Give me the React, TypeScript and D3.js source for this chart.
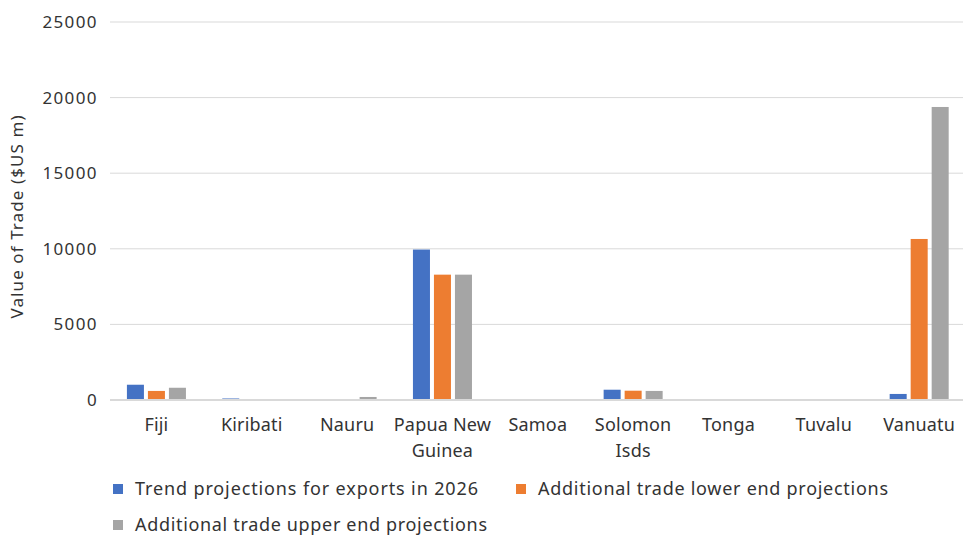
import React from "react";
import * as d3 from "d3";

const categories = ["Fiji", "Kiribati", "Nauru", "Papua New Guinea", "Samoa", "Solomon Isds", "Tonga", "Tuvalu", "Vanuatu"];
const categoryLines = [["Fiji"], ["Kiribati"], ["Nauru"], ["Papua New", "Guinea"], ["Samoa"], ["Solomon", "Isds"], ["Tonga"], ["Tuvalu"], ["Vanuatu"]];
const trendExports = [1010, 100, 20, 9950, 20, 680, 0, 0, 400];
const lowerEnd = [600, 8, 40, 8290, 5, 615, 0, 0, 10650];
const upperEnd = [810, 15, 200, 8290, 5, 600, 0, 0, 19380];
const seriesNames = ["Trend projections for exports in 2026", "Additional trade lower end projections", "Additional trade upper end projections"];
const seriesColors = ["#4472C4", "#ED7D31", "#A5A5A5"];
const yTicks = [0, 5000, 10000, 15000, 20000, 25000];

const W = 963, H = 537;
const M = { left: 108.8, right: 966.8, top: 22, bottom: 400 };
const FONT = "'Noto Sans', sans-serif";

export default function App() {
  const series = [trendExports, lowerEnd, upperEnd];
  const x = d3.scaleBand<string>().domain(categories).range([M.left, M.right]).paddingInner(0.381).paddingOuter(0.19);
  const xs = d3.scaleBand<number>().domain([0, 1, 2]).range([0, x.bandwidth()]).paddingInner(0.19);
  const y = d3.scaleLinear().domain([0, 25000]).range([M.bottom, M.top]);

  const legend = [
    { i: 0, x: 113, y: 489, len: 343 },
    { i: 1, x: 516, y: 489, len: 350 },
    { i: 2, x: 113, y: 525, len: 352 },
  ];

  return (
    <svg width={W} height={H} style={{ position: "absolute", left: 0, top: 0, background: "#fff" }} fontFamily={FONT}>
      {yTicks.map((t) => (
        <g key={t}>
          {t > 0 && <line x1={110} x2={W} y1={y(t)} y2={y(t)} stroke="#d9d9d9" strokeWidth={1} />}
          <text x={98} y={y(t)} dy="0.35em" textAnchor="end" fontSize={17} letterSpacing={1.4} fill="#333">{t}</text>
        </g>
      ))}
      {categories.map((c, i) => (
        <g key={c}>
          {series.map((s, j) => (
            <rect key={j} x={(x(c) as number) + (xs(j) as number)} width={xs.bandwidth()} y={y(s[i])} height={y(0) - y(s[i])} fill={seriesColors[j]} />
          ))}
          {categoryLines[i].map((ln, k) => (
            <text key={k} x={(x(c) as number) + x.bandwidth() / 2} y={431 + k * 26} textAnchor="middle" fontSize={18} letterSpacing={0.2} fill="#333">{ln}</text>
          ))}
        </g>
      ))}
      <line x1={110} x2={W} y1={y(0)} y2={y(0)} stroke="#d9d9d9" strokeWidth={2} />
      <text transform={`translate(23,${217}) rotate(-90)`} textAnchor="middle" fontSize={17} textLength={203} lengthAdjust="spacing" fill="#333">Value of Trade ($US m)</text>
      {legend.map((l) => (
        <g key={l.i}>
          <rect x={l.x} y={l.y - 5} width={10} height={10} fill={seriesColors[l.i]} />
          <text x={l.x + 22} y={l.y} dy="0.35em" fontSize={18} textLength={l.len} lengthAdjust="spacing" fill="#333">{seriesNames[l.i]}</text>
        </g>
      ))}
    </svg>
  );
}
